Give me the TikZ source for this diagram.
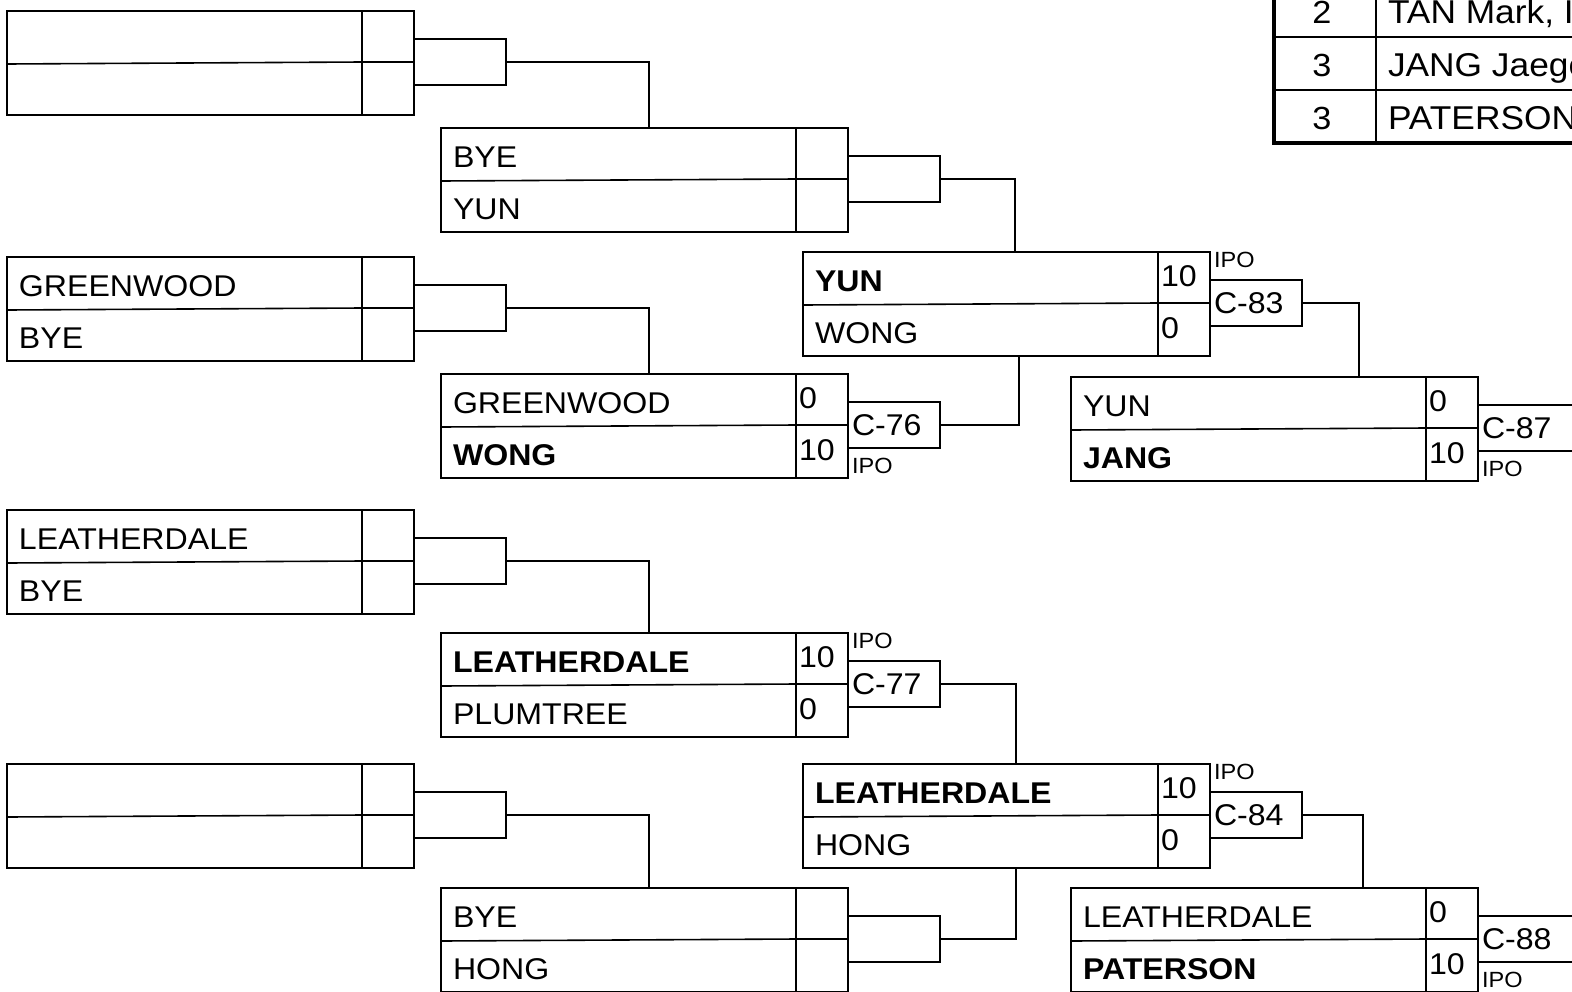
\documentclass[tikz,border=0pt]{standalone}
\usepackage{fontspec}
\setmainfont{Liberation Sans}[FakeStretch=1.07]
\newcommand\MatchBox[7]{%
  \node[mbox] (#1) at (#2,#3) {};
  \draw[ln] ([yshift=-53pt]#1.north west) -- ([xshift=355pt,yshift=-51pt]#1.north west) -- ([yshift=-51pt]#1.north east);
  \draw[ln] ([xshift=355pt]#1.north west) -- ([xshift=355pt]#1.south west);
  \node[nm] (#1-a) at ([xshift=12pt,yshift=-39pt]#1.north west) {#4};
  \node[nm] (#1-b) at ([xshift=12pt,yshift=-91pt]#1.north west) {#5};
  \node[nm] (#1-sa) at ([xshift=358pt,yshift=-34pt]#1.north west) {#6};
  \node[nm] (#1-sb) at ([xshift=358pt,yshift=-86pt]#1.north west) {#7};
}
\newcommand\BracketBox[4]{%
  \node[cbox,minimum width=#4] (#1) at ([yshift=-28pt]#2.north east) {};
  \node[nm] (#1-t) at ([xshift=4pt,yshift=-33pt]#1.north west) {#3};
}
\begin{document}
\begin{tikzpicture}[x=1pt,y=-1pt,
  ln/.style={line width=1.6pt},
  mbox/.style={draw,line width=1.6pt,minimum width=407pt,minimum height=104pt,inner sep=0pt,outer sep=0pt,anchor=north west},
  cbox/.style={draw,line width=1.6pt,minimum height=46pt,inner sep=0pt,outer sep=0pt,anchor=north west},
  nm/.style={anchor=base west,inner sep=0pt,outer sep=0pt,font=\fontsize{30}{36}\selectfont},
  ipo/.style={anchor=base west,inner sep=0pt,outer sep=0pt,font=\fontsize{22}{26}\selectfont},
  tname/.style={anchor=base west,inner sep=0pt,outer sep=0pt,font=\fontsize{33}{38}\selectfont},
  tnum/.style={anchor=base,inner sep=0pt,font=\fontsize{32}{38}\selectfont}]
\useasboundingbox (0,0) rectangle (1572,991);
\clip (0,0) rectangle (1572,991);
\fill[white] (0,0) rectangle (1572,991);

% Round 1
\MatchBox{m11}{7}{11}{}{}{}{}
\MatchBox{m12}{7}{257}{GREENWOOD}{BYE}{}{}
\MatchBox{m13}{7}{510}{LEATHERDALE}{BYE}{}{}
\MatchBox{m14}{7}{764}{}{}{}{}
\BracketBox{b11}{m11}{}{92pt}
\BracketBox{b12}{m12}{}{92pt}
\BracketBox{b13}{m13}{}{92pt}
\BracketBox{b14}{m14}{}{92pt}

% Round 2
\MatchBox{m21}{441}{128}{BYE}{YUN}{}{}
\MatchBox{m22}{441}{374}{GREENWOOD}{\textbf{WONG}}{0}{10}
\MatchBox{m23}{441}{633}{\textbf{LEATHERDALE}}{PLUMTREE}{10}{0}
\MatchBox{m24}{441}{888}{BYE}{HONG}{}{}
\BracketBox{b21}{m21}{}{92pt}
\BracketBox{b22}{m22}{C-76}{92pt}
\BracketBox{b23}{m23}{C-77}{92pt}
\BracketBox{b24}{m24}{}{92pt}
\node[ipo] (i22) at ([xshift=4pt,yshift=-99pt]m22.north east) {IPO};
\node[ipo] (i23) at ([xshift=4pt,yshift=-15pt]m23.north east) {IPO};

% Round 3
\MatchBox{m31}{803}{252}{\textbf{YUN}}{WONG}{10}{0}
\MatchBox{m32}{803}{764}{\textbf{LEATHERDALE}}{HONG}{10}{0}
\BracketBox{b31}{m31}{C-83}{92pt}
\BracketBox{b32}{m32}{C-84}{92pt}
\node[ipo] (i31) at ([xshift=4pt,yshift=-15pt]m31.north east) {IPO};
\node[ipo] (i32) at ([xshift=4pt,yshift=-15pt]m32.north east) {IPO};

% Round 4
\MatchBox{m41}{1071}{377}{YUN}{\textbf{JANG}}{0}{10}
\MatchBox{m42}{1071}{888}{LEATHERDALE}{\textbf{PATERSON}}{0}{10}
\BracketBox{b41}{m41}{C-87}{200pt}
\BracketBox{b42}{m42}{C-88}{200pt}
\node[ipo] (i41) at ([xshift=4pt,yshift=-99pt]m41.north east) {IPO};
\node[ipo] (i42) at ([xshift=4pt,yshift=-99pt]m42.north east) {IPO};

% Connectors
\draw[ln] (b11.east) -| ([xshift=208pt]m21.north west);
\draw[ln] (b12.east) -| ([xshift=208pt]m22.north west);
\draw[ln] (b13.east) -| ([xshift=208pt]m23.north west);
\draw[ln] (b14.east) -| ([xshift=208pt]m24.north west);
\draw[ln] (b21.east) -| ([xshift=212pt]m31.north west);
\draw[ln] (b22.east) -| ([xshift=216pt]m31.south west);
\draw[ln] (b23.east) -| ([xshift=213pt]m32.north west);
\draw[ln] (b24.east) -| ([xshift=213pt]m32.south west);
\draw[ln] (b31.east) -| ([xshift=288pt]m41.north west);
\draw[ln] (b32.east) -| ([xshift=292pt]m42.north west);

% Results table
\draw[ln] (1274,37) -- (1600,37);
\draw[ln] (1274,90) -- (1600,90);
\draw[ln] (1376,-10) -- (1376,143);
\draw[line width=3.5pt] (1274,-10) -- (1274,143) -- (1600,143);
\node[tnum] (t1n) at (1322,23) {2};
\node[tname] (t1a) at (1388,23) {TAN Mark, I};
\node[tnum] (t2n) at (1322,76) {3};
\node[tname] (t2a) at (1388,76) {JANG Jaegeon};
\node[tnum] (t3n) at (1322,129) {3};
\node[tname] (t3a) at (1388,129) {PATERSON};
\end{tikzpicture}
\end{document}
